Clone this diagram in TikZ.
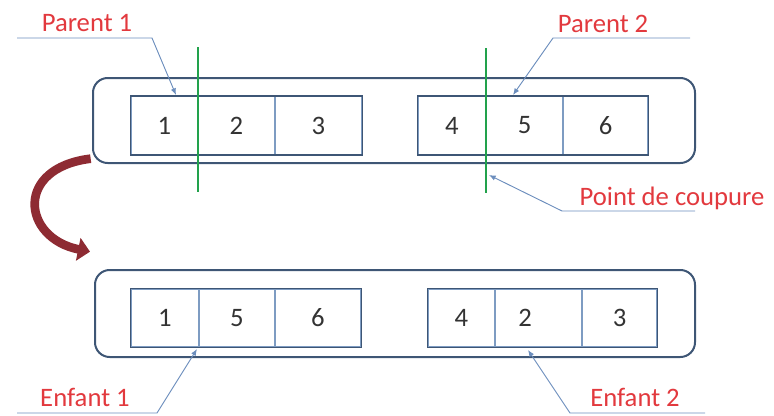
\documentclass[tikz,border=0pt]{standalone}
\usepackage{fontspec}
\setmainfont{Carlito}
\usepackage{xcolor}
\usetikzlibrary{arrows.meta,fit}
\definecolor{Frame}{HTML}{3E5675}
\definecolor{Divider}{HTML}{7E9CC2}
\definecolor{Leader}{HTML}{6C8EBD}
\definecolor{Cut}{HTML}{22A24C}
\definecolor{LabelRed}{HTML}{E2393E}
\definecolor{Digit}{HTML}{333333}
\definecolor{Swap}{HTML}{8E2B33}

\begin{document}
\begin{tikzpicture}[
  x=0.75pt,y=-0.75pt,
  font=\fontsize{20}{24}\selectfont,
  outer/.style={draw=Frame, line width=1.5pt, rounded corners=11pt, inner sep=0pt},
  cell/.style={draw=Divider, line width=0.8pt, text=Digit, inner sep=0pt, minimum height=43pt},
  frame/.style={draw=Frame, line width=1.4pt, inner sep=0pt},
  tag/.style={text=LabelRed, inner sep=0pt},
  lead/.style={draw=Leader, line width=0.7pt},
  leadarr/.style={lead, -{Latex[length=5pt,width=4pt]}},
  cutline/.style={draw=Cut, line width=1.5pt},
  swaparr/.style={draw=Swap, line width=6.5pt, -{Triangle[length=9pt,width=17pt]}}
]
  \useasboundingbox (0,0) rectangle (774,415);

  % chromosomes
  \node[outer, minimum width=451.5pt, minimum height=63.75pt] (top) at (394,120.5) {};
  \node[outer, minimum width=450pt, minimum height=65.25pt] (bot) at (395,313.5) {};

  \node[cell, minimum width=50.25pt] (a1) at (164.5,125.5) {1};
  \node[cell, minimum width=57.75pt] (a2) at (236.5,125.5) {2};
  \node[cell, minimum width=65.25pt] (a3) at (318.5,125.5) {3};
  \node[frame, fit=(a1)(a3)] (par1) {};

  \node[cell, minimum width=51pt] (b1) at (452,125.5) {4};
  \node[cell, minimum width=57.75pt] (b2) at (524.5,125.5) {5};
  \node[cell, minimum width=63.75pt] (b3) at (605.5,125.5) {6};
  \node[frame, fit=(b1)(b3)] (par2) {};

  \node[cell, minimum width=51pt, minimum height=43.5pt] (c1) at (165,318) {1};
  \node[cell, minimum width=57pt, minimum height=43.5pt] (c2) at (237,318) {5};
  \node[cell, minimum width=64.5pt, minimum height=43.5pt] (c3) at (318,318) {6};
  \node[frame, fit=(c1)(c3)] (enf1) {};

  \node[cell, minimum width=50.25pt, minimum height=43.5pt] (d1) at (461.5,318) {4};
  \node[cell, minimum width=65.25pt, minimum height=43.5pt] (d2) at (538.5,318) {\hspace*{-20pt}2};
  \node[cell, minimum width=56.25pt, minimum height=43.5pt] (d3) at (619.5,318) {3};
  \node[frame, fit=(d1)(d3)] (enf2) {};

  % cut points
  \coordinate (cutA) at (198,47);
  \coordinate (cutB) at (198,192);
  \coordinate (cutC) at (486,48);
  \coordinate (cutD) at (486,193);
  \draw[cutline] (cutA) -- (cutB);
  \draw[cutline] (cutC) -- (cutD);

  % labels
  \node[tag] (lp1) at (87,23) {Parent 1};
  \node[tag] (lp2) at (603,24) {Parent 2};
  \node[tag] (lcut) at (672,198) {Point de coupure};
  \node[tag] (le1) at (85,397) {Enfant 1};
  \node[tag] (le2) at (635,397) {Enfant 2};

  \coordinate (p1s) at (17,38);
  \coordinate (p1k) at (152,38);
  \coordinate (p1e) at (176,95);
  \draw[leadarr] (p1s) -- (p1k) -- (p1e);

  \coordinate (p2s) at (690,38);
  \coordinate (p2k) at (553,38);
  \coordinate (p2e) at (513,95);
  \draw[leadarr] (p2s) -- (p2k) -- (p2e);

  \coordinate (cs) at (695,211);
  \coordinate (ck) at (562,211);
  \coordinate (ce) at (489,175);
  \draw[leadarr] (cs) -- (ck) -- (ce);

  \coordinate (e1s) at (17,413);
  \coordinate (e1k) at (157,413);
  \coordinate (e1e) at (197,349);
  \draw[leadarr] (e1s) -- (e1k) -- (e1e);

  \coordinate (e2s) at (705,413);
  \coordinate (e2k) at (570,413);
  \coordinate (e2e) at (528,350);
  \draw[leadarr] (e2s) -- (e2k) -- (e2e);

  % crossover arrow
  \draw[swaparr] ([xshift=-1pt,yshift=4pt]top.south west) .. controls (14,168) and (22,238) .. ([xshift=-3pt,yshift=13pt]bot.north west);
\end{tikzpicture}
\end{document}
